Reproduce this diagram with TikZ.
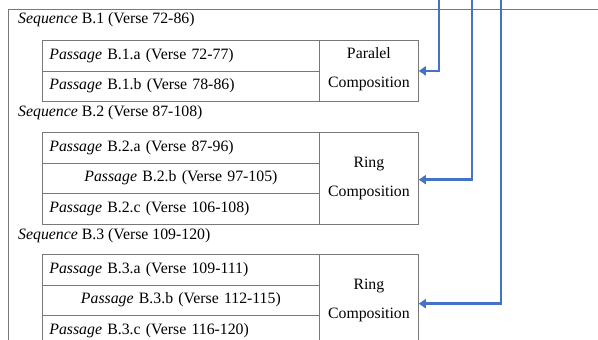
\documentclass[tikz,border=0pt]{standalone}
\usepackage{fontspec}
\setmainfont{Liberation Serif}
\usetikzlibrary{arrows.meta}
\definecolor{framegray}{RGB}{120,120,120}
\definecolor{linkblue}{RGB}{68,114,196}

\begin{document}
\begin{tikzpicture}[x=1pt,y=-1pt,
    every node/.style={font=\fontsize{15.8}{18}\selectfont},
    seqlabel/.style={anchor=west, inner sep=0pt},
    passage/.style={draw=framegray, line width=0.8pt, anchor=north west,
      text width=263pt, inner xsep=7pt, inner ysep=0pt,
      minimum height=30.5pt, align=left},
    midpassage/.style={passage, align=center},
    compbox/.style={draw=framegray, line width=0.8pt, anchor=north west,
      text width=95pt, inner xsep=2pt, inner ysep=0pt, align=center,
      font=\fontsize{15.8}{29}\selectfont},
    link/.style={draw=linkblue, line width=2.4pt,
      -{Triangle[length=7pt,width=9pt]}}]

  % page frame
  \clip (0,0) rectangle (598,340);
  \draw[framegray, line width=0.8pt] (8,9) rectangle (620,360);

  % sequence B.1
  \node[seqlabel] (s1) at (18,20) {\textit{Sequence} B.1 (Verse 72-86)};
  \node[passage] (p1a) at (42,40) {\textit{Passage} B.1.a (Verse 72-77)};
  \node[passage] (p1b) at (42,70.5) {\textit{Passage} B.1.b (Verse 78-86)};
  \node[compbox, minimum height=61pt] (c1) at (319,40) {Paralel\\Composition\\[-23pt]\mbox{}};

  % sequence B.2
  \node[seqlabel] (s2) at (18,113) {\textit{Sequence} B.2 (Verse 87-108)};
  \node[passage] (p2a) at (42,132) {\textit{Passage} B.2.a (Verse 87-96)};
  \node[midpassage] (p2b) at (42,162.5) {\textit{Passage} B.2.b (Verse 97-105)};
  \node[passage] (p2c) at (42,193) {\textit{Passage} B.2.c (Verse 106-108)};
  \node[compbox, minimum height=91.5pt] (c2) at (319,132) {Ring\\Composition};

  % sequence B.3
  \node[seqlabel] (s3) at (18,236) {\textit{Sequence} B.3 (Verse 109-120)};
  \node[passage] (p3a) at (42,254) {\textit{Passage} B.3.a (Verse 109-111)};
  \node[midpassage] (p3b) at (42,284.5) {\textit{Passage} B.3.b (Verse 112-115)};
  \node[passage] (p3c) at (42,315) {\textit{Passage} B.3.c (Verse 116-120)};
  \node[compbox, minimum height=91.5pt] (c3) at (319,254) {Ring\\Composition};

  % arrows from the top
  \coordinate (t1) at (439,-3);
  \coordinate (t2) at (472,-3);
  \coordinate (t3) at (501,-3);
  \draw[link] (t1) |- (c1.east);
  \draw[link] (t2) |- ([yshift=-1.5pt]c2.east);
  \draw[link] (t3) |- ([yshift=-3.5pt]c3.east);
\end{tikzpicture}
\end{document}
